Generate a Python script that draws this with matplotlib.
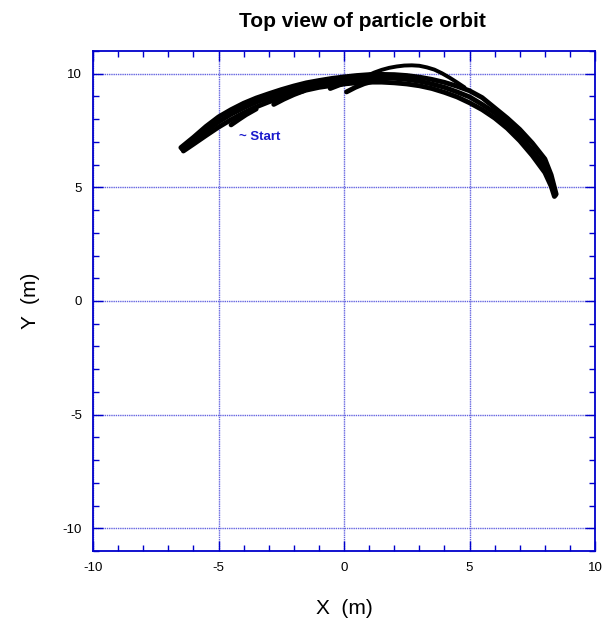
import matplotlib
matplotlib.use('Agg')
import matplotlib.pyplot as plt
from matplotlib.ticker import MultipleLocator

plt.rcParams['font.family'] = ['Liberation Sans', 'DejaVu Sans']
plt.rcParams['axes.unicode_minus'] = False

# orbit strands (metres)
outer_x = [-6.5, -6.0, -5.5, -5.0, -4.5, -4.0, -3.5, -3.0, -2.5, -2.0, -1.5, -1.0, -0.5, 0.0, 0.5, 1.0,
           1.5, 2.0, 2.5, 3.0, 3.5, 4.0, 4.5, 5.0, 5.5, 6.0, 6.5, 7.0, 7.5, 8.0, 8.25, 8.45]
outer_y = [6.75, 7.2, 7.68, 8.1, 8.42, 8.7, 8.93, 9.12, 9.3, 9.46, 9.6, 9.7, 9.79, 9.86, 9.92, 9.96,
           9.97, 9.96, 9.92, 9.85, 9.75, 9.62, 9.45, 9.25, 8.95, 8.5, 8.05, 7.55, 6.95, 6.25, 5.55, 4.7]

mid_x = [-6.45, -6.0, -5.5, -5.0, -4.5, -4.0, -3.5, -3.0, -2.5, -2.0, -1.5, -1.0, -0.5, 0.0, 0.5, 1.0,
         1.5, 2.0, 2.5, 3.0, 3.5, 4.0, 4.5, 5.0, 5.5, 6.0, 6.5, 7.0, 7.5, 8.0, 8.25, 8.42]
mid_y = [6.68, 7.05, 7.48, 7.88, 8.22, 8.5, 8.75, 8.95, 9.13, 9.3, 9.45, 9.56, 9.65, 9.72, 9.78, 9.81,
         9.82, 9.8, 9.75, 9.67, 9.55, 9.4, 9.2, 8.98, 8.65, 8.28, 7.82, 7.3, 6.65, 5.95, 5.3, 4.65]

inner_x = [-6.4, -6.0, -5.5, -5.0, -4.5, -4.0, -3.5, -3.0, -2.5, -2.0, -1.5, -1.0, -0.5, 0.0, 0.5, 1.0,
           1.5, 2.0, 2.5, 3.0, 3.5, 4.0, 4.5, 5.0, 5.5, 6.0, 6.5, 7.0, 7.5, 8.0, 8.25, 8.38]
inner_y = [6.6, 6.9, 7.28, 7.65, 7.98, 8.28, 8.54, 8.76, 8.95, 9.13, 9.28, 9.4, 9.48, 9.55, 9.6, 9.63,
           9.63, 9.6, 9.55, 9.47, 9.35, 9.18, 8.98, 8.72, 8.42, 8.05, 7.6, 7.05, 6.4, 5.65, 5.05, 4.6]

stub1_x = [-4.5, -4.2, -3.9, -3.5]
stub1_y = [7.75, 7.98, 8.2, 8.45]
stub2_x = [-2.8, -2.4, -2.0, -1.6]
stub2_y = [8.65, 8.88, 9.08, 9.25]
stub3_x = [-0.55, -0.2, 0.2, 0.6]
stub3_y = [9.35, 9.5, 9.65, 9.76]
stub4_x = [0.1, 0.45, 0.8, 1.2]
stub4_y = [9.2, 9.4, 9.56, 9.68]

arc_x = [0.9, 1.2, 1.5, 1.8, 2.1, 2.4, 2.7, 3.0, 3.3, 3.6, 3.9, 4.2, 4.5, 4.8]
arc_y = [9.9, 10.05, 10.17, 10.26, 10.32, 10.36, 10.37, 10.35, 10.28, 10.18, 10.02, 9.83, 9.62, 9.4]

strands = [(outer_x, outer_y), (mid_x, mid_y), (inner_x, inner_y),
           (stub1_x, stub1_y), (stub2_x, stub2_y), (stub3_x, stub3_y),
           (stub4_x, stub4_y)]

blue = '#0000cc'

fig = plt.figure(figsize=(6.02, 6.25), dpi=100)
ax = fig.add_axes([0.1545, 0.1184, 0.834, 0.8])

for sx, sy in strands:
    ax.plot(sx, sy, color='black', lw=3.5, solid_capstyle='round', solid_joinstyle='round')
ax.plot(arc_x, arc_y, color='black', lw=2.8, solid_capstyle='round', solid_joinstyle='round')

ax.text(-4.2, 7.2, '~ Start', color='#1a1acc', fontsize=9.5, fontweight='bold',
        ha='left', va='center')

ax.set_xlim(-10, 10)
ax.set_ylim(-11, 11)
ax.xaxis.set_major_locator(MultipleLocator(5))
ax.yaxis.set_major_locator(MultipleLocator(5))
ax.xaxis.set_minor_locator(MultipleLocator(1))
ax.yaxis.set_minor_locator(MultipleLocator(1))
ax.tick_params(which='both', direction='in', top=True, right=True, color=blue,
               labelsize=9.5, pad=8)
ax.tick_params(which='major', length=7, width=1)
ax.tick_params(which='minor', length=4, width=1)
for sp in ax.spines.values():
    sp.set_color(blue)
    sp.set_linewidth(1.3)
ax.grid(True, which='major', color='#6464e0', linestyle=(0, (1, 0.6)), linewidth=1.0)
ax.set_axisbelow(True)

ax.set_title('Top view of particle orbit', fontsize=15, fontweight='bold', pad=17, x=0.536)
ax.set_xlabel('X  (m)', fontsize=15, labelpad=18)
ax.set_ylabel('Y  (m)', fontsize=15, labelpad=16)

fig.savefig('out.png', dpi=100)
